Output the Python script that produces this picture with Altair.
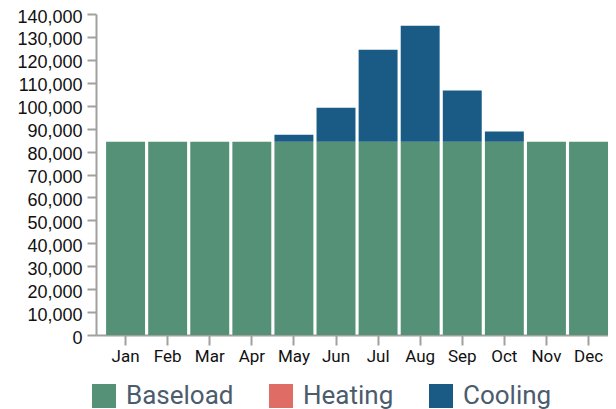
import altair as alt
import pandas as pd

months = ["Jan", "Feb", "Mar", "Apr", "May", "Jun", "Jul", "Aug", "Sep", "Oct", "Nov", "Dec"]
baseload = [84300] * 12
heating = [0] * 12
cooling = [0, 0, 0, 0, 3000, 14800, 40100, 50600, 22300, 4400, 0, 0]
series = ["Baseload", "Heating", "Cooling"]
colors = ["#549176", "#e06c66", "#195b85"]
y_ticks = list(range(0, 140001, 10000))

rows = []
for i, m in enumerate(months):
    for k, (name, vals) in enumerate(zip(series, [baseload, heating, cooling])):
        rows.append({"month": m, "series": name, "value": vals[i], "order": k})
df = pd.DataFrame(rows)

chart = alt.Chart(df).mark_bar().encode(
    x=alt.X("month:N", sort=months, title=None,
            scale=alt.Scale(paddingInner=0.075, paddingOuter=0.12, align=1),
            axis=alt.Axis(labelAngle=0, tickSize=10, labelPadding=3, labelFontSize=17,
                          labelFont="Roboto", labelColor="#111", domainColor="#a0a0a0",
                          tickColor="#a0a0a0", domainWidth=2, tickWidth=2)),
    y=alt.Y("value:Q", stack="zero", title=None,
            scale=alt.Scale(domain=[0, 140000], nice=False),
            axis=alt.Axis(values=y_ticks, format=",d", grid=False, tickSize=9, labelPadding=5,
                          labelOffset=3, labelFontSize=18, labelFont="Liberation Sans",
                          labelColor="#111", domainColor="#a0a0a0", tickColor="#a0a0a0",
                          domainWidth=2, tickWidth=2)),
    color=alt.Color("series:N", sort=series,
                    scale=alt.Scale(domain=series, range=colors),
                    legend=alt.Legend(title=None, orient="none", direction="horizontal",
                                      legendX=-5, legendY=369, symbolType="square",
                                      symbolSize=576, symbolStrokeWidth=0, symbolOpacity=1,
                                      labelFont="Roboto", labelFontSize=26, labelColor="#4b5c6d",
                                      labelOffset=9, columnPadding=34, padding=0)),
    order=alt.Order("order:Q"),
).properties(
    width=512, height=321,
    autosize=alt.AutoSizeParams(type="none"),
    padding={"left": 88, "top": 6, "right": 0, "bottom": 74},
).configure_view(stroke=None)

chart.save("out.html", embed_options={"renderer": "svg", "actions": False})
